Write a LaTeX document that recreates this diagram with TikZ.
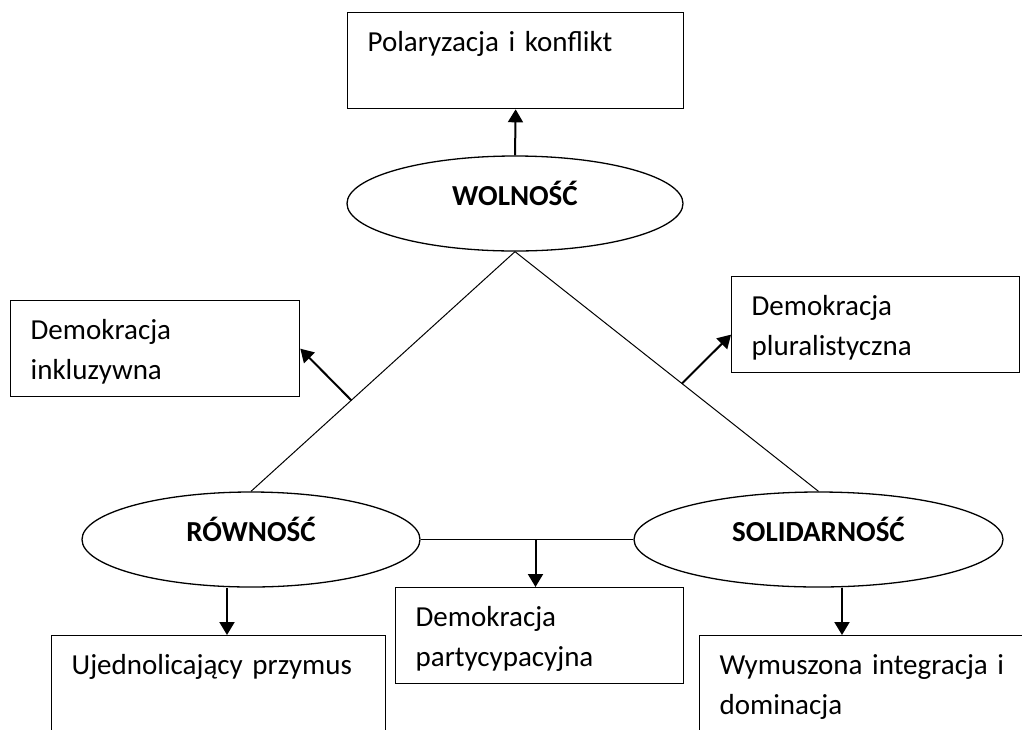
\documentclass[tikz,border=0pt]{standalone}
\usepackage{fontspec}
\setmainfont{Carlito}
\usetikzlibrary{shapes.geometric,arrows.meta}

\newcommand{\boxfont}{\fontsize{29pt}{40pt}\selectfont}

\begin{document}
\begin{tikzpicture}[x=1pt, y=-1pt,
  oval/.style={draw, ellipse, line width=1.3pt, minimum height=95pt, inner sep=0pt,
    font=\boxfont\bfseries, text height=21pt, text depth=17pt},
  textbox/.style={draw, rectangle, anchor=north west, line width=1.3pt, align=left,
    inner xsep=20pt, inner ysep=0pt, text height=39pt, text depth=57pt, font=\boxfont},
  side/.style={line width=1pt},
  arr/.style={line width=2pt, -{Triangle[width=15pt,length=13pt]}}]

\useasboundingbox (0,0) rectangle (1022,729) ;
\clip (0,0) rectangle (1022,729) ;

\node [oval, minimum width=336pt] (wol) at (515,203.5) {WOLNOŚĆ} ;
\node [oval, minimum width=338pt] (rown) at (251,539.5) {RÓWNOŚĆ} ;
\node [oval, minimum width=369pt] (sol) at (818.5,539.5) {SOLIDARNOŚĆ} ;

\node [textbox, text width=296pt] (konf) at (347,12) {Polaryzacja i konflikt} ;
\node [textbox, text width=249pt] (incl) at (10,300) {Demokracja\\inkluzywna} ;
\node [textbox, text width=248pt] (plur) at (731,276) {Demokracja\\pluralistyczna} ;
\node [textbox, text width=248pt] (part) at (395,587) {Demokracja\\partycypacyjna} ;
\node [textbox, text width=294pt] (ujed) at (51,635) {Ujednolicający przymus} ;
\node [textbox, text width=296pt] (wym) at (699,635) {Wymuszona integracja i\\dominacja} ;

\draw [side] (wol.south) to coordinate [pos=.62] (lfoot) (rown.north) ;
\draw [side] (wol.south) to coordinate [pos=.55] (rfoot) (sol.north) ;
\draw [side] (rown.east) to coordinate [pos=.54] (bfoot) (sol.west) ;

\draw [arr] (wol.north) to (konf.south) ;
\draw [arr] (lfoot) to (incl.east) ;
\draw [arr] (rfoot) to ([yshift=-10pt]plur.west) ;
\draw [arr] (bfoot) to (bfoot |- part.north) ;
\draw [arr] ([xshift=-24pt]rown.south) to ([xshift=-24pt]rown.south |- ujed.north) ;
\draw [arr] ([xshift=23.5pt]sol.south) to ([xshift=23.5pt]sol.south |- wym.north) ;

\end{tikzpicture}
\end{document}
